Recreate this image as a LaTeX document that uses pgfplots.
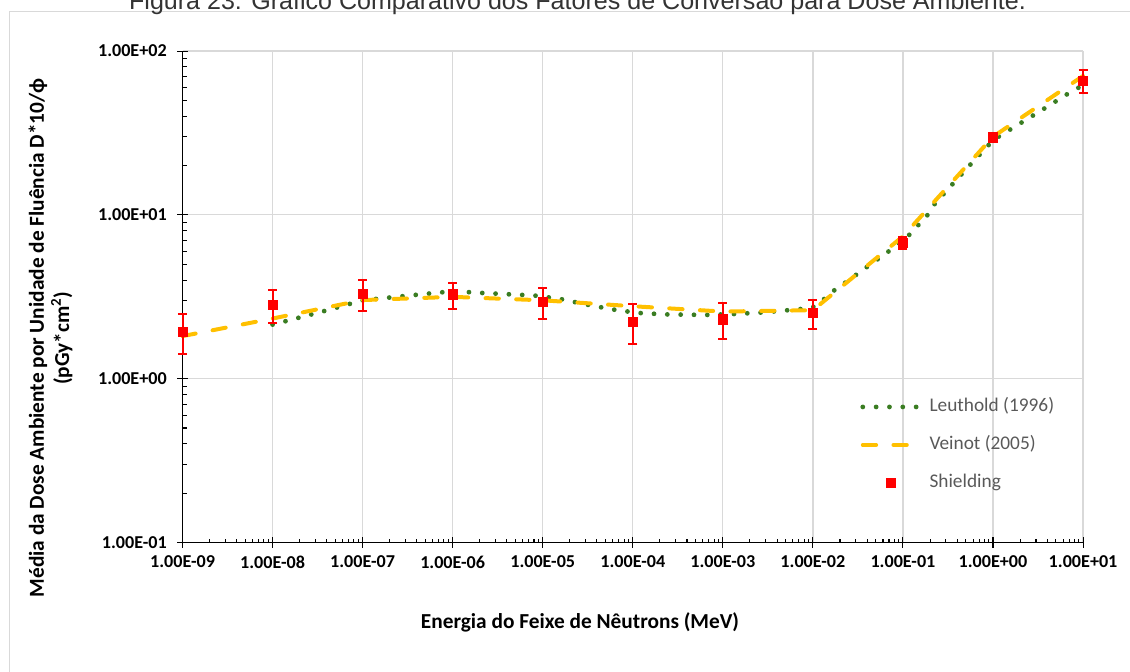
\documentclass[border=0pt]{standalone}
\usepackage{fontspec}
\setmainfont{Carlito}
\newfontfamily\titlefont{Liberation Sans}
\usepackage{pgfplots}
\pgfplotsset{compat=1.18}

\definecolor{leugreen}{HTML}{3A7D22}
\definecolor{veiyellow}{HTML}{FFC000}
\definecolor{gridgray}{HTML}{D9D9D9}
\definecolor{legtext}{HTML}{595959}

\pgfplotsset{lineleg/.style={legend image code/.code={\draw[##1] (0pt,0pt) -- (43pt,0pt);}}}

\begin{document}
\begin{tikzpicture}
\useasboundingbox (-136.9pt,-96.4pt) rectangle (710.6pt,406.9pt);
% chart frame (left and top edges are visible)
\draw[gridgray, line width=0.75pt] (-129.4pt,-200pt) -- (-129.4pt,397.9pt) -- (800pt,397.9pt);
\node[font=\titlefont\fontsize{18.8}{22}\selectfont, text=black!80, anchor=base]
  at (296.25pt,400.1pt) {Figura 23: Gráfico Comparativo dos Fatores de Conversão para Dose Ambiente.};

\begin{axis}[
  width=675.4pt, height=368.6pt, scale only axis,
  xmode=log, ymode=log,
  xmin=1e-9, xmax=1e1, ymin=0.1, ymax=100,
  axis lines=left, axis line style={-, black, line width=1pt},
  xtick={1e-9,1e-8,1e-7,1e-6,1e-5,1e-4,1e-3,1e-2,1e-1,1,10},
  xticklabels={1.00E-09,1.00E-08,1.00E-07,1.00E-06,1.00E-05,1.00E-04,1.00E-03,1.00E-02,1.00E-01,1.00E+00,1.00E+01},
  ytick={0.1,1,10,100},
  yticklabels={1.00E-01,1.00E+00,1.00E+01,1.00E+02},
  minor xtick={2e-9,3e-9,4e-9,5e-9,6e-9,7e-9,8e-9,9e-9,
    2e-8,3e-8,4e-8,5e-8,6e-8,7e-8,8e-8,9e-8,
    2e-7,3e-7,4e-7,5e-7,6e-7,7e-7,8e-7,9e-7,
    2e-6,3e-6,4e-6,5e-6,6e-6,7e-6,8e-6,9e-6,
    2e-5,3e-5,4e-5,5e-5,6e-5,7e-5,8e-5,9e-5,
    2e-4,3e-4,4e-4,5e-4,6e-4,7e-4,8e-4,9e-4,
    2e-3,3e-3,4e-3,5e-3,6e-3,7e-3,8e-3,9e-3,
    0.02,0.03,0.04,0.05,0.06,0.07,0.08,0.09,
    0.2,0.3,0.4,0.5,0.6,0.7,0.8,0.9,
    2,3,4,5,6,7,8,9},
  minor ytick={0.2,0.3,0.4,0.5,0.6,0.7,0.8,0.9,
    2,3,4,5,6,7,8,9,
    20,30,40,50,60,70,80,90},
  tick align=inside, major tick length=4pt, minor tick length=3pt,
  tick style={black, line width=0.8pt},
  extra x ticks={1e-9,1e-8,1e-7,1e-6,1e-5,1e-4,1e-3,1e-2,1e-1,1,10},
  extra x tick labels={},
  extra y ticks={0.1,1,10,100},
  extra y tick labels={},
  extra tick style={grid=none, tick align=outside, major tick length=4pt},
  xmajorgrids, ymajorgrids,
  grid style={gridgray, line width=0.9pt},
  tick label style={font=\bfseries\fontsize{13.6}{16}\selectfont},
  xticklabel style={yshift=-6.6pt},
  yticklabel style={xshift=-8.3pt},
  every axis x label/.style={at={(rel axis cs:0.4414,-0.1618)}, anchor=center},
  every axis y label/.style={at={(rel axis cs:-0.1466,0.416)}, rotate=90, anchor=center, align=center},
  label style={font=\bfseries\fontsize{16}{19}\selectfont},
  xlabel={Energia do Feixe de Nêutrons (MeV)},
  ylabel={Média da Dose Ambiente por Unidade de Fluência D*10/ϕ\\(pGy*cm\textsuperscript{2})},
  clip=false,
  legend cell align=left,
  legend style={draw=none, fill=none, at={(rel axis cs:0.748,0.2995)}, anchor=north west,
    font=\fontsize{14.5}{17}\selectfont, text=legtext, row sep=15.5pt, column sep=0pt,
    nodes={inner sep=0pt, text height=10pt, text depth=3pt},
    /tikz/every odd column/.style={column sep=5.25pt}},
]

\addplot[leugreen, line width=3.6pt, line cap=round, dash pattern=on 0pt off 10pt, lineleg]
coordinates {
(1e-8,2.14) (3.67e-8,2.58) (1e-7,3.01) (3.9e-7,3.25) (7.6e-7,3.37)
(1.45e-6,3.38) (2.07e-6,3.34) (8.07e-6,3.22) (1.55e-5,3.07) (3.02e-5,2.84)
(5.89e-5,2.65) (1.15e-4,2.52) (2.29e-4,2.47) (6.46e-4,2.45) (1.26e-3,2.48)
(2.54e-3,2.53) (4.9e-3,2.61) (9.7e-3,2.70) (1.32e-2,3.05) (1.71e-2,3.45)
(2.29e-2,3.86) (4.0e-2,4.82) (7.0e-2,6.01) (1.19e-1,7.60) (1.9e-1,10.06)
(2.26e-1,11.7) (3.55e-1,15.4) (5.66e-1,20.4) (9.06e-1,26.9) (1.17,30.2)
(2.07,36.6) (3.69,44.5) (6.53,54.2) (8.79,59.6) (10,61.0)
};
\addlegendentry{Leuthold (1996)}

\addplot[veiyellow, line width=3pt, line cap=round, dash pattern=on 10pt off 13pt, lineleg]
coordinates {
(1e-9,1.82) (1e-8,2.33) (1e-7,3.02) (1e-6,3.16) (1e-5,3.01) (1e-4,2.77)
(1e-3,2.57) (1e-2,2.62) (1e-1,7.4) (1,30.0) (10,70.5)
};
\addlegendentry{Veinot (2005)}

\addplot[only marks, mark=square*, mark size=3.5pt, red, mark options={draw=red, fill=red},
  legend image code/.code={\fill[red] (17.5pt,-3.4pt) rectangle (24.5pt,3.4pt);},
  error bars/.cd, y dir=both, y explicit,
  error bar style={line width=1.5pt, red},
  error mark options={rotate=90, mark size=3.4pt, line width=1.5pt, red}]
coordinates {
(1e-9,1.94) +- (0,0.53)
(1e-8,2.83) +- (0,0.64)
(1e-7,3.29) +- (0,0.69)
(1e-6,3.27) +- (0,0.59)
(1e-5,2.95) +- (0,0.62)
(1e-4,2.23) +- (0,0.61)
(1e-3,2.31) +- (0,0.57)
(1e-2,2.52) +- (0,0.50)
(1e-1,6.75) +- (0,0.55)
(1,29.8) +- (0,2.0)
(10,66.1) +- (0,11.0)
};
\addlegendentry{Shielding}
\end{axis}
\end{tikzpicture}
\end{document}
